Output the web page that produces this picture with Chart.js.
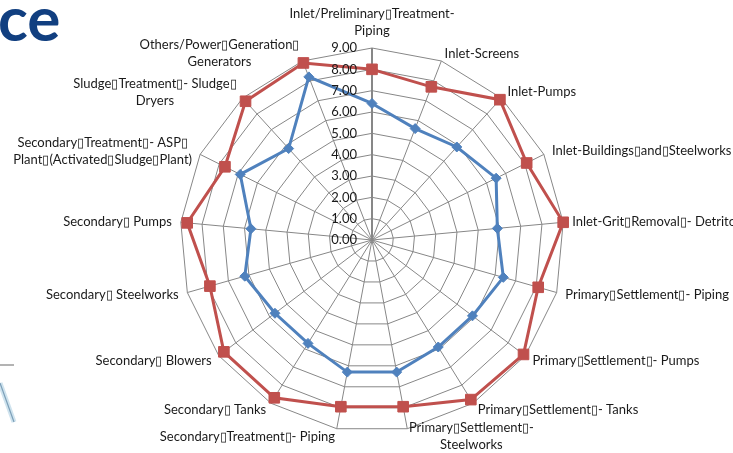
<!DOCTYPE html>
<html>
<head>
<meta charset="utf-8">
<script src="https://cdn.jsdelivr.net/npm/chart.js@4"></script>
<style>
  body { margin: 0; background: #fff; overflow: hidden; }
  #wrap { position: relative; width: 733px; height: 453px; }
  #myChart { position: absolute; left: 0; top: 0; }
  .title-tail { position: absolute; left: -2px; top: -14px; font: bold 62px Lato, sans-serif; line-height: 62px; color: #113f80; }
  .deco { position: absolute; left: 0; top: 355px; }
</style>
</head>
<body>
<div id="wrap">
  <div class="title-tail">ce</div>
  <svg class="deco" width="20" height="75">
    <line x1="0" y1="10" x2="14" y2="10" stroke="#9a9a9a" stroke-width="1.5"/>
    <line x1="0" y1="28" x2="14" y2="67" stroke="#cfe3ee" stroke-width="5"/>
    <line x1="0" y1="28" x2="14" y2="67" stroke="#7c9fb8" stroke-width="1.2"/>
  </svg>
  <canvas id="myChart" width="733" height="453"></canvas>
</div>
<script>
const B = '\u25AF';

const categories = [
  ['Inlet/Preliminary' + B + 'Treatment-', 'Piping'],
  'Inlet-Screens',
  'Inlet-Pumps',
  'Inlet-Buildings' + B + 'and' + B + 'Steelworks',
  'Inlet-Grit' + B + 'Removal' + B + '- Detritor',
  'Primary' + B + 'Settlement' + B + '- Piping',
  'Primary' + B + 'Settlement' + B + '- Pumps',
  'Primary' + B + 'Settlement' + B + '- Tanks',
  ['Primary' + B + 'Settlement' + B + '-', 'Steelworks'],
  'Secondary' + B + 'Treatment' + B + '- Piping',
  'Secondary' + B + ' Tanks',
  'Secondary' + B + ' Blowers',
  'Secondary' + B + ' Steelworks',
  'Secondary' + B + ' Pumps',
  ['Secondary' + B + 'Treatment' + B + '- ASP' + B, 'Plant' + B + '(Activated' + B + 'Sludge' + B + 'Plant)'],
  ['Sludge' + B + 'Treatment' + B + '- Sludge' + B, 'Dryers'],
  ['Others/Power' + B + 'Generation' + B, 'Generators']
];

const redValues  = [8.0, 7.7, 8.9, 8.1, 9.0, 8.1, 8.9, 8.8, 7.95, 7.95, 8.7, 8.7, 7.9, 8.7, 7.7, 8.8, 8.9];
const blueValues = [6.4, 5.6, 5.9, 6.5, 5.9, 6.4, 5.9, 5.9, 6.3, 6.3, 5.7, 5.7, 6.2, 5.7, 6.9, 5.8, 8.2];

const tickMin = 0, tickMax = 9, tickStep = 1;

// excel-like labels: ticks left of the axis, category labels off the spoke ends
const labelPlugin = {
  id: 'excelLabels',
  afterDraw(chart) {
    const r = chart.scales.r;
    const ctx = chart.ctx;
    ctx.save();
    ctx.fillStyle = '#1a1a1a';
    ctx.font = '13px Lato';
    ctx.textAlign = 'right';
    ctx.textBaseline = 'middle';
    r.ticks.forEach(t => {
      const d = r.getDistanceFromCenterForValue(t.value);
      ctx.fillText(t.value.toFixed(2), r.xCenter - 15, r.yCenter - d);
    });

    const lineH = 17;
    ctx.font = '13px Lato';
    ctx.textAlign = 'center';
    const n = chart.data.labels.length;
    for (let i = 0; i < n; i++) {
      const lines = [].concat(chart.data.labels[i]);
      const p = r.getPointPosition(i, r.drawingArea);
      const ang = i * 2 * Math.PI / n;
      const s = Math.sin(ang), c = Math.cos(ang);
      const bw = Math.max(...lines.map(l => ctx.measureText(l).width));
      const bh = lines.length * lineH;
      let left, top;
      if (Math.abs(s) < 0.05) left = p.x - bw / 2;
      else if (s > 0) left = p.x + 9 * s;
      else left = p.x + 9 * s - bw;
      if (i === 0) top = p.y - 9 - bh;
      else top = p.y - 8 * c - bh / 2;
      lines.forEach((l, k) => ctx.fillText(l, left + bw / 2, top + lineH * (k + 0.5)));
    }
    ctx.restore();
  }
};

const ctx = document.getElementById('myChart');

new Chart(ctx, {
  type: 'radar',
  data: {
    labels: categories,
    datasets: [{
      data: blueValues,
      borderColor: '#4f81bd',
      backgroundColor: '#4f81bd',
      borderWidth: 3,
      pointStyle: 'rectRot',
      pointRadius: 5,
      pointBorderWidth: 1,
      fill: false,
      tension: 0
    },
    {
      data: redValues,
      borderColor: '#c0504d',
      backgroundColor: '#c0504d',
      borderWidth: 3,
      pointStyle: 'rect',
      pointRadius: 7.5,
      pointBorderWidth: 1,
      fill: false,
      tension: 0
    }]
  },
  options: {
    responsive: false,
    animation: false,
    devicePixelRatio: 1,
    layout: { padding: { left: 180, right: 169, top: 48, bottom: 21 } },
    plugins: { legend: { display: false }, tooltip: { enabled: false } },
    scales: {
      r: {
        min: tickMin,
        max: tickMax,
        ticks: { stepSize: tickStep, display: false },
        pointLabels: { display: false },
        grid: { color: '#878787', lineWidth: 1 },
        angleLines: {
          color: '#878787',
          lineWidth: c => c.index === 0 ? 2 : 1
        }
      }
    }
  },
  plugins: [labelPlugin]
});
</script>
</body>
</html>
